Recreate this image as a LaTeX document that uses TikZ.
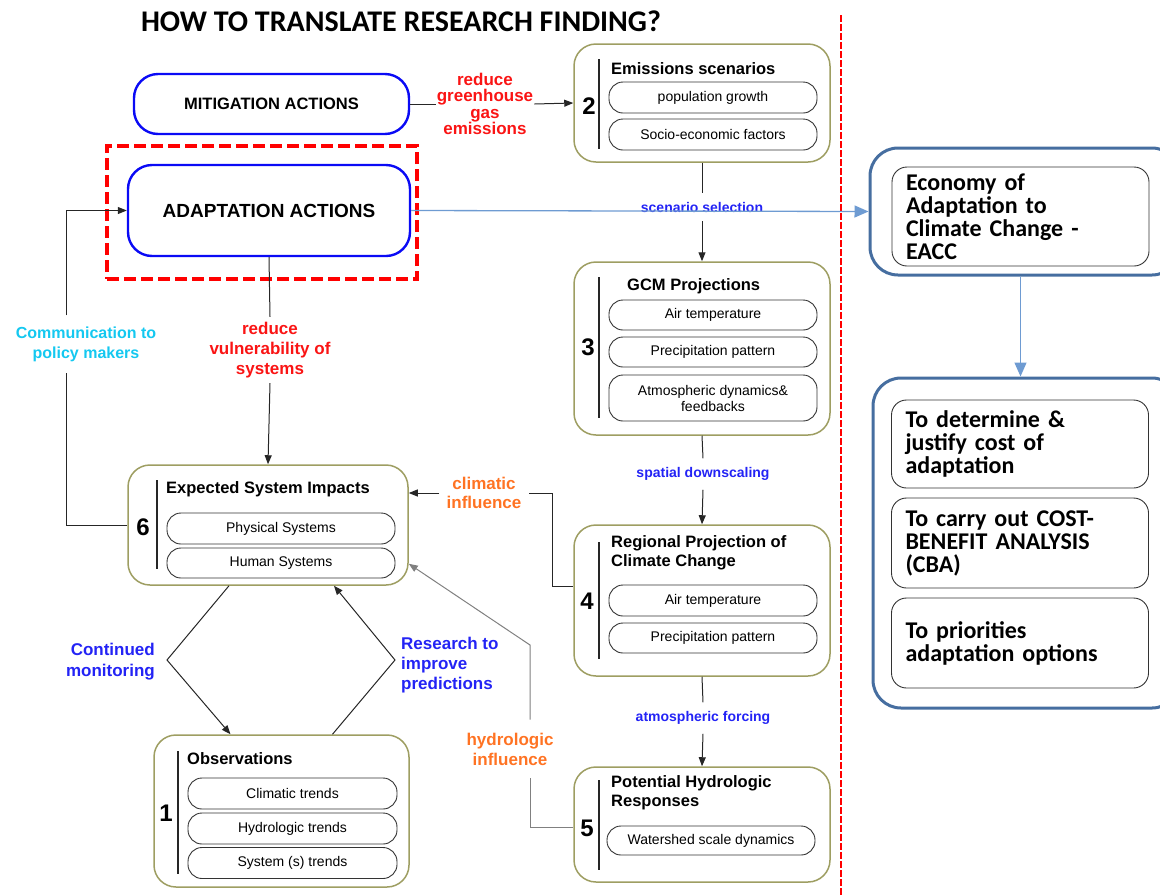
\documentclass[tikz,border=0pt]{standalone}
\usepackage{fontspec}
\setmainfont{Liberation Sans}
\newfontfamily\calfont{Carlito}
\usetikzlibrary{arrows.meta,calc}

\definecolor{olivebox}{RGB}{158,158,98}
\definecolor{actblue}{RGB}{10,10,245}
\definecolor{steel}{RGB}{70,110,160}
\definecolor{steellight}{RGB}{110,155,210}
\definecolor{lblblue}{RGB}{35,35,245}
\definecolor{lblcyan}{RGB}{20,200,240}
\definecolor{lblorange}{RGB}{255,115,35}
\definecolor{lblred}{RGB}{250,20,20}
\newcommand{\fsz}[2]{\fontsize{#1}{#2}\selectfont}

\begin{document}
\begin{tikzpicture}[
  x=1pt, y=-1pt,
  >={Triangle[length=9pt,width=7pt]},
  panel/.style={draw=olivebox, line width=1.5pt, rounded corners=22pt, fill=white},
  item/.style={draw=black!80, line width=0.9pt, rounded corners=14pt, align=center,
               minimum width=208pt, minimum height=31pt, inner sep=1pt, font=\fsz{14}{16}},
  ptitle/.style={anchor=west, align=left, inner sep=0pt, font=\bfseries\fsz{16.5}{19}},
  pnum/.style={inner sep=0pt, font=\bfseries\fsz{24}{24}},
  pbar/.style={draw=black!85, line width=1.3pt},
  act/.style={draw=actblue, line width=2.4pt, rounded corners=24pt, fill=white, font=\bfseries},
  lbl/.style={align=center, inner sep=1pt, font=\bfseries\fsz{17}{20}},
  flow/.style={align=center, inner xsep=1pt, inner ysep=9pt, text=lblblue, font=\bfseries\fsz{14}{16}},
  conn/.style={draw=black!85, line width=1pt},
  arr/.style={conn, ->},
  gconn/.style={draw=black!50, line width=1pt},
  garr/.style={gconn, ->},
  outer/.style={draw=steel, line width=3pt, rounded corners=28pt},
  inner/.style={draw=black!80, line width=0.9pt, rounded corners=15pt, align=left,
                minimum width=255pt, text width=229pt, inner xsep=14pt,
                font=\calfont\bfseries\fsz{24}{23}},
  barr/.style={draw=steellight, line width=1.3pt, -{Triangle[length=14pt,width=12pt]}}
]
\useasboundingbox (0,0) rectangle (1160,895);
% ---------------- title and divider
\node[font=\calfont\bfseries\fsz{30}{30}, inner sep=0pt] (ttl) at (401,21) {HOW TO TRANSLATE RESEARCH FINDING?};
\draw[draw=red, line width=1.6pt, dash pattern=on 7pt off 2pt] (841,15) -- (841,895);
% ---------------- action boxes
\node[act, minimum width=275pt, minimum height=60pt, font=\bfseries\fsz{16.5}{18}] (mit) at (271.5,104) {MITIGATION ACTIONS};
\node[draw=red, line width=4pt, dash pattern=on 12pt off 5pt, minimum width=310pt, minimum height=133pt] (focus) at (262,212.5) {};
\node[act, minimum width=282pt, minimum height=91pt, font=\bfseries\fsz{19}{21}] (ada) at (269,210.5) {ADAPTATION ACTIONS};
% ---------------- 2 emissions
\node[panel, minimum width=256pt, minimum height=118pt] (em) at (702,103) {};
\node[pnum] (em-n) at (589,106) {2};
\draw[pbar] (599,59) -- (599,149);
\node[ptitle] (em-t) at (611,69) {Emissions scenarios};
\node[item] (em-a) at (713,97.5) {population growth};
\node[item] (em-b) at (713,134.5) {Socio-economic factors};
% ---------------- 3 GCM
\node[panel, minimum width=256pt, minimum height=173pt] (gcm) at (702,348.5) {};
\node[pnum] (gcm-n) at (588,347) {3};
\draw[pbar] (599,277) -- (599,418);
\node[ptitle] (gcm-t) at (627,286) {GCM Projections};
\node[item, minimum height=30pt] (gcm-a) at (713,315) {Air temperature};
\node[item, minimum height=30pt] (gcm-b) at (713,352) {Precipitation pattern};
\node[item, minimum height=46pt] (gcm-c) at (713,398) {Atmospheric dynamics\&\\ feedbacks};
% ---------------- 4 regional
\node[panel, minimum width=256pt, minimum height=151pt] (reg) at (702,600.5) {};
\node[pnum] (reg-n) at (587,601) {4};
\draw[pbar] (599,542) -- (599,659);
\node[ptitle] (reg-t) at (611,553) {Regional Projection of\\ Climate Change};
\node[item] (reg-a) at (713,600.5) {Air temperature};
\node[item, minimum height=30pt] (reg-b) at (713,638) {Precipitation pattern};
% ---------------- 5 hydrologic
\node[panel, minimum width=256pt, minimum height=115pt] (hyd) at (702,824.5) {};
\node[pnum] (hyd-n) at (587,828) {5};
\draw[pbar] (599,780) -- (599,870);
\node[ptitle] (hyd-t) at (611,793) {Potential Hydrologic\\ Responses};
\node[item, minimum height=29pt] (hyd-a) at (711,840.5) {Watershed scale dynamics};
% ---------------- 6 impacts
\node[panel, minimum width=280pt, minimum height=120pt] (imp) at (268,525) {};
\node[pnum] (imp-n) at (143,527) {6};
\draw[pbar] (157,480) -- (157,569);
\node[ptitle] (imp-t) at (166,489) {Expected System Impacts};
\node[item, minimum width=228pt] (imp-a) at (281,528.5) {Physical Systems};
\node[item, minimum width=228pt, minimum height=30pt] (imp-b) at (281,563) {Human Systems};
% ---------------- 1 observations
\node[panel, minimum width=255pt, minimum height=152pt] (obs) at (281.5,811) {};
\node[pnum] (obs-n) at (166,813) {1};
\draw[pbar] (178,751) -- (178,874);
\node[ptitle] (obs-t) at (187,759) {Observations};
\node[item, minimum width=209pt] (obs-a) at (292.5,793.5) {Climatic trends};
\node[item, minimum width=209pt] (obs-b) at (292.5,828.5) {Hydrologic trends};
\node[item, minimum width=209pt] (obs-c) at (292.5,863) {System (s) trends};
% ---------------- EACC column
\node[outer, minimum width=310pt, minimum height=127pt] (eacc-o) at (1025,211.5) {};
\node[inner, minimum height=99pt] (eacc) at (1020.5,216.5) {Economy of\\ Adaptation to\\ Climate Change -\\ EACC};
\node[outer, minimum width=307pt, minimum height=330pt] (opt-o) at (1026.5,543) {};
\node[inner, minimum height=88pt] (opt-a) at (1020,444) {To determine \&\\ justify cost of\\ adaptation};
\node[inner, minimum height=90pt] (opt-b) at (1020,543) {To carry out COST-\\ BENEFIT ANALYSIS\\ (CBA)};
\node[inner, minimum height=90pt] (opt-c) at (1020,643) {To priorities\\ adaptation options};
% ---------------- labels
\node[lbl, text=lblred, font=\bfseries\fsz{17}{16.5}] (grn) at (485,104) {reduce\\ greenhouse\\ gas\\ emissions};
\node[flow] (scen) at (702,207) {scenario selection};
\node[flow] (down) at (703,474) {spatial downscaling};
\node[flow] (atm) at (703,718) {atmospheric forcing};
\node[lbl, text=lblred, inner ysep=5pt] (vul) at (270,350) {reduce\\ vulnerability of\\ systems};
\node[lbl, text=lblcyan, font=\bfseries\fsz{16}{20}, inner ysep=11pt] (comm) at (86,344) {Communication to\\ policy makers};
\node[lbl, text=lblorange, font=\bfseries\fsz{17}{19}, inner xsep=7pt] (clim) at (484,493) {climatic\\ influence};
\node[lbl, text=lblorange, inner ysep=13pt] (hinf) at (510,749) {hydrologic\\ influence};
\node[lbl, text=lblblue, align=right, anchor=east, font=\bfseries\fsz{17}{21}] (mon) at (156,662) {Continued\\ monitoring};
\node[lbl, text=lblblue, align=left, anchor=west] (res) at (400,665) {Research to\\ improve\\ predictions};
% ---------------- connectors
\draw[conn] (mit.east) -- (grn.west);
\draw[arr] (grn.east) -- (em.west);
\draw[conn] (em.south) -- (scen.north);
\draw[arr] (scen.south) -- (gcm.north);
\draw[conn] (gcm.south) -- (down.north);
\draw[arr] (down.south) -- (reg.north);
\draw[conn] (reg.south) -- (atm.north);
\draw[arr] (atm.south) -- (hyd.north);
\draw[barr] (ada.east) -- (eacc-o.west);
\draw[barr] (eacc-o.south -| eacc.south) -- (opt-o.north -| eacc.south);
\draw[conn] (ada.south) -- (vul.north);
\draw[arr] (vul.south) -- (imp.north);
\coordinate (cl) at (66,0);
\draw[conn] (imp.west) -| (cl |- comm.south);
\draw[arr] (cl |- comm.north) |- (ada.west);
\coordinate (k1) at (552,0);
\draw[conn] ([yshift=14pt]reg.west) -| (k1 |- clim.east) -- (clim.east);
\draw[arr] (clim.west) -- (imp.east |- clim.west);
\coordinate (h1) at (530,645);
\draw[gconn] ([yshift=-3pt]hyd.west) -| (h1 |- hinf.south);
\draw[garr] (h1 |- hinf.north) -- (h1) -- ([yshift=22pt]imp.south east);
\coordinate (m1) at (167,660);
\draw[arr] ([xshift=-39pt]imp.south) -- (m1) -- ([xshift=-51pt]obs.north);
\coordinate (r1) at (395,660);
\draw[arr] ([xshift=51pt]obs.north) -- (r1) -- ([xshift=66pt]imp.south);
\end{tikzpicture}
\end{document}
